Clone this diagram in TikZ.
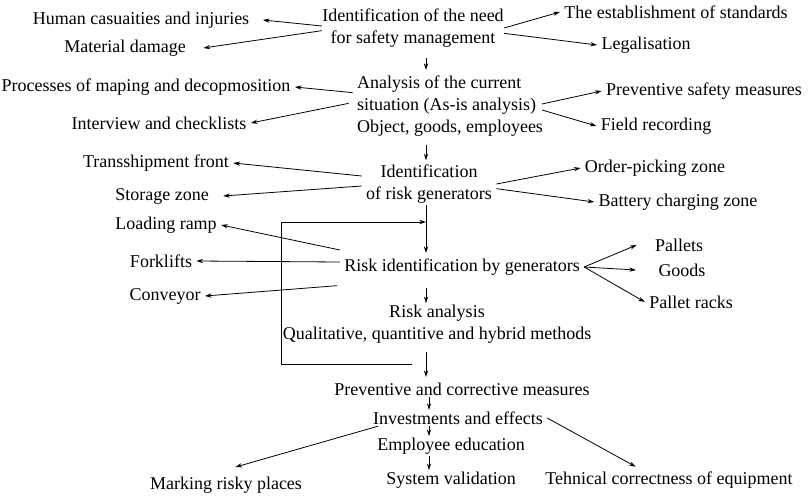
\documentclass[tikz,border=0pt]{standalone}
\usepackage{fontspec}
\setmainfont{Liberation Serif}
\usetikzlibrary{arrows.meta}

\begin{document}
\begin{tikzpicture}[x=0.75pt, y=-0.75pt, >={Stealth[length=5pt,width=3.2pt]}, line width=0.6pt,
    font=\fontsize{13.5}{16.5}\selectfont, inner xsep=3pt, inner ysep=1pt]
     \useasboundingbox (0,0) rectangle (808,503);
     % the nodes
     \node (need) [align=center] at (413,28) {Identification of the need\\for safety management};
     \node (human) at (141,20) {Human casuaities and injuries};
     \node (material) at (125,48) {Material damage};
     \node (standards) at (676,12) {The establishment of standards};
     \node (legal) at (646,45) {Legalisation};
     \node (analysis) [align=left] at (450,106) {Analysis of the current\\situation (As-is analysis)\\Object, goods, employees};
     \node (processes) at (146,87) {Processes of maping and decopmosition};
     \node (interview) at (159,123) {Interview and checklists};
     \node (safety measures) at (704,91) {Preventive safety measures};
     \node (field) at (656,126) {Field recording};
     \node (generators) [align=center] at (429,184) {Identification\\of risk generators};
     \node (transshipment) at (156,163) {Transshipment front};
     \node (storage) at (162,196) {Storage zone};
     \node (order) at (655,168) {Order-picking zone};
     \node (battery) at (678,202) {Battery charging zone};
     \node (loading) at (166,225) {Loading ramp};
     \node (forklifts) at (161,261) {Forklifts};
     \node (conveyor) at (165,296) {Conveyor};
     \node (risk id) at (462,267) {Risk identification by generators};
     \node (pallets) at (679,245) {Pallets};
     \node (goods) at (682,270) {Goods};
     \node (racks) at (691,302) {Pallet racks};
     \node (risk analysis) [align=center] at (437,324) {Risk analysis\\Qualitative, quantitive and hybrid methods};
     \node (corrective) at (462,389) {Preventive and corrective measures};
     \node (investments) at (458,418) {Investments and effects};
     \node (education) at (451,446) {Employee education};
     \node (marking) at (226,485) {Marking risky places};
     \node (validation) at (451,480) {System validation};
     \node (technical) at (669,480) {Tehnical correctness of equipment};
     \coordinate (axis) at (426,0);
     \coordinate (axis low) at (429,0);
     \coordinate (feedback in) at (412,364);
     \coordinate (feedback out) at (426,222);
     % the arrows
     \draw[->] ([xshift=3pt,yshift=1.5pt]need.west) to ([xshift=7pt]human.east);
     \draw[->] ([xshift=3pt,yshift=-2pt]need.west) to ([xshift=10pt]material.east);
     \draw[->] ([xshift=-3pt]need.east) to (standards.west);
     \draw[->] ([xshift=-3pt,yshift=-4pt]need.east) to (legal.west);
     \draw[->] ([yshift=10pt]analysis.west) to (processes.east);
     \draw[->] ([xshift=-3pt,yshift=2pt]analysis.west) to (interview.east);
     \draw[->] ([xshift=-4pt,yshift=1.5pt]analysis.east) to (safety measures.west);
     \draw[->] ([xshift=-4pt,yshift=-3pt]analysis.east) to (field.west);
     \draw[->] ([yshift=6pt]generators.west) to (transshipment.east);
     \draw[->] ([yshift=-1.5pt]generators.west) to ([xshift=7.5pt]storage.east);
     \draw[->] (generators.east) to (order.west);
     \draw[->] ([yshift=-3.5pt]generators.east) to (battery.west);
     \draw[->] ([yshift=12.75pt]risk id.west) to (loading.east);
     \draw[->] ([yshift=3.75pt]risk id.west) to (forklifts.east);
     \draw[->] ([xshift=-2pt,yshift=-14pt]risk id.west) to (conveyor.east);
     \draw[->] (risk id.east) to ([xshift=-10.5pt]pallets.west);
     \draw[->] (risk id.east) to ([xshift=-13.5pt]goods.west);
     \draw[->] (risk id.east) to (racks.west);
     \draw[->] ([xshift=7pt]investments.south west) to ([xshift=7pt,yshift=6pt]marking.north);
     \draw[->] (investments.east) to ([xshift=-25pt,yshift=2.5pt]technical.north);
     % the main flow
     \draw[->, shorten <=7pt, shorten >=3pt] (need.south -| axis) to (analysis.north -| axis);
     \draw[->, shorten <=5pt, shorten >=2pt] (analysis.south -| axis) to (generators.north -| axis);
     \draw[->, shorten >=3pt] (generators.south -| axis) to (risk id.north -| axis);
     \draw[->, shorten <=8pt] (risk id.south -| axis) to (risk analysis.north -| axis);
     \draw[->, shorten <=5pt, shorten >=3pt] (risk analysis.south -| axis) to (corrective.north -| axis);
     \draw[->] (corrective.south -| axis low) to (investments.north -| axis low);
     \draw[->] (investments.south -| axis low) to (education.north -| axis low);
     \draw[->] (education.south -| axis low) to (validation.north -| axis low);
     \draw[->] (feedback in) -- ++(-131,0) |- (feedback out);
    \end{tikzpicture}
\end{document}
